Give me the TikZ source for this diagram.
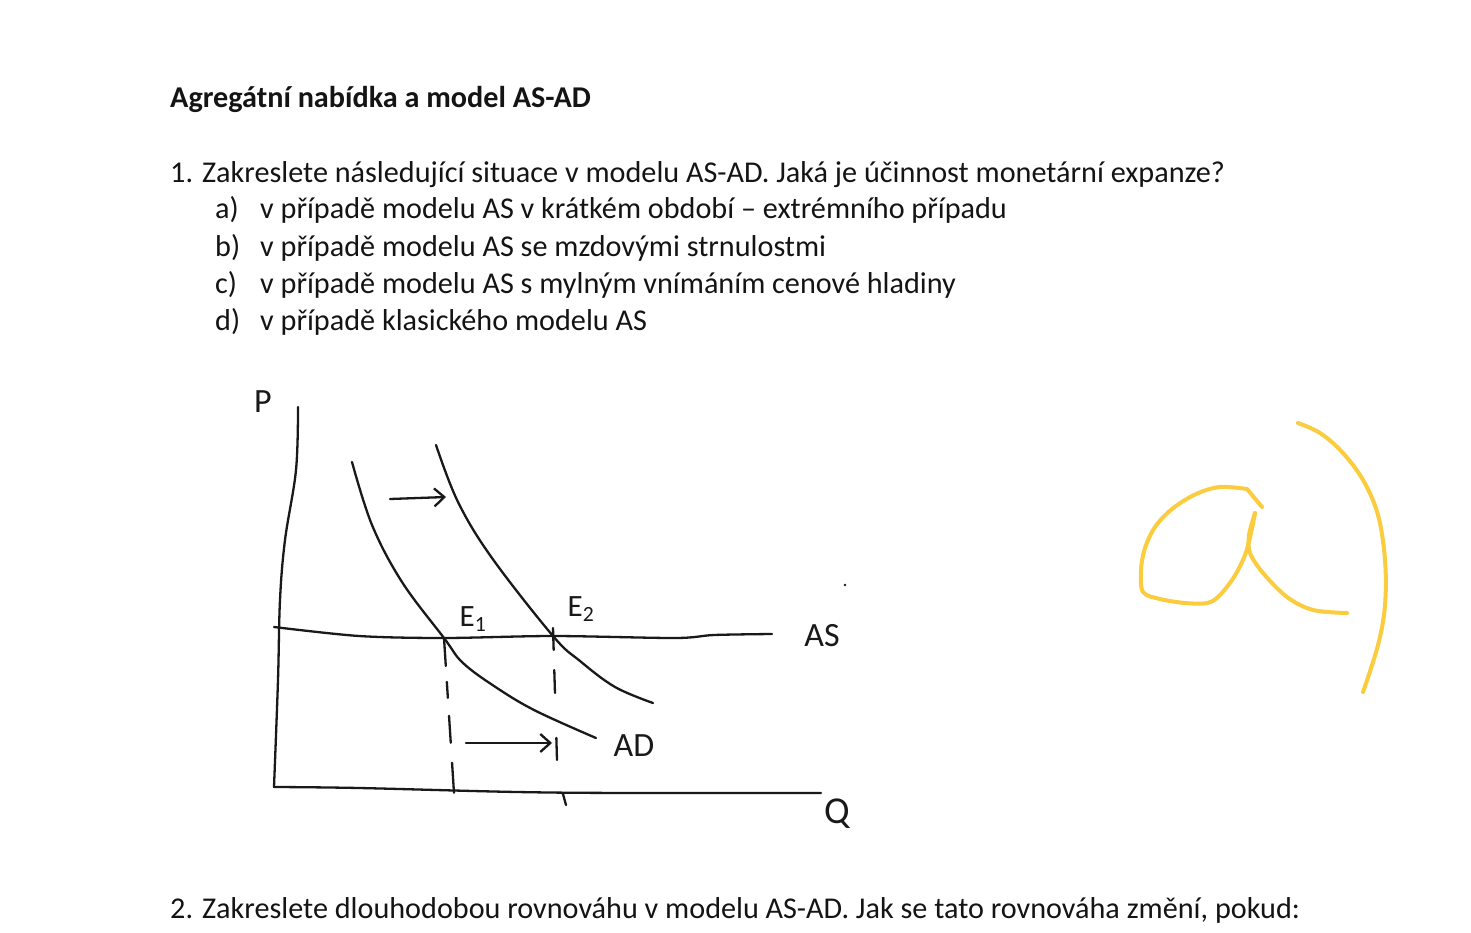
\documentclass[tikz,border=0pt]{standalone}
\usepackage{fontspec}
\setmainfont{Carlito}
\usetikzlibrary{arrows.meta, positioning}
\definecolor{inkBlack}    {RGB}{ 20, 20, 20}
\definecolor{penBlack}    {RGB}{ 25, 25, 25}
\definecolor{markerYellow}{RGB}{250,204, 62}

\begin{document}
\begin{tikzpicture}[
  x=1pt, y=-1pt,
  %% Printed text line
  txt/.style={anchor=base west, inner sep=0pt, text=inkBlack,
    font=\fontsize{30.2}{35}\selectfont},
  %% Handwritten label
  hand/.style={inner sep=0pt, text=penBlack,
    font=\fontsize{34}{38}\selectfont},
  %% Pen stroke
  pen/.style={draw=penBlack, line width=2.3pt, line cap=round, line join=round},
  %% Shift arrow
  sarr/.style={pen, -{Straight Barb[length=10pt,width=18pt,line width=2.3pt]}},
  %% Yellow marker stroke
  marker/.style={draw=markerYellow, line width=4pt, line cap=round, line join=round},
]
\useasboundingbox[fill=white] (0,0) rectangle (1471,933);

%% ── Y positions of text baselines ──────────────────────────────────────────
\def\yT{108}
\def\yQ{183}
\def\yA{219}
\def\yB{256}
\def\yC{293}
\def\yD{330}
\def\yR{918}

%% ── TEXT ───────────────────────────────────────────────────────────────────
\node[txt, font=\fontsize{30.2}{35}\selectfont\bfseries]
  (title) at (170,\yT) {Agregátní nabídka a model AS-AD};
\node[txt] (q1) at (170,\yQ)
  {1. Zakreslete následující situace v modelu AS-AD. Jaká je účinnost monetární expanze?};
\node[txt] (la) at (215,\yA) {a)};
\node[txt] (ta) at (260,\yA) {v případě modelu AS v krátkém období – extrémního případu};
\node[txt] (lb) at (215,\yB) {b)};
\node[txt] (tb) at (260,\yB) {v případě modelu AS se mzdovými strnulostmi};
\node[txt] (lc) at (215,\yC) {c)};
\node[txt] (tc) at (260,\yC) {v případě modelu AS s mylným vnímáním cenové hladiny};
\node[txt] (ld) at (215,\yD) {d)};
\node[txt] (td) at (260,\yD) {v případě klasického modelu AS};
\node[txt] (q2) at (170,\yR)
  {2. Zakreslete dlouhodobou rovnováhu v modelu AS-AD. Jak se tato rovnováha změní, pokud:};

%% ── KEY POINTS ─────────────────────────────────────────────────────────────
\coordinate (O)  at (274,787);
\coordinate (E1) at (444,638);
\coordinate (E2) at (553,636);

%% ── AXES ───────────────────────────────────────────────────────────────────
\draw[pen] plot[smooth, tension=0.6] coordinates
  {(298,407) (296,470) (285,540) (280,600) (278,680) (O)};
\draw[pen] plot[smooth, tension=0.6] coordinates
  {(O) (359,788) (517,792) (635,793) (821,793)};
\node[hand] (P) at (263,402) {P};
\node[hand, font=\fontsize{38}{42}\selectfont] (Q) at (837,814) {Q};

%% ── AS ─────────────────────────────────────────────────────────────────────
\draw[pen] plot[smooth, tension=0.5] coordinates
  {(274,627) (359,636) (E1) (E2) (675,638) (714,635) (772,634)};
\node[hand] (AS) at (822,636) {AS};

%% ── AD CURVES ──────────────────────────────────────────────────────────────
\draw[pen] plot[smooth, tension=0.6] coordinates
  {(352,462) (372,525) (402,582) (E1) (463,663) (497,688) (536,711) (596,738)};
\draw[pen] plot[smooth, tension=0.6] coordinates
  {(436,445) (458,502) (492,558) (E2) (580,661) (615,687) (653,703)};
\node[hand] (AD) at (634,746) {AD};

%% ── EQUILIBRIA ─────────────────────────────────────────────────────────────
\node[hand, font=\fontsize{31}{34}\selectfont] (E1lab) at (473,619) {E\textsubscript{1}};
\node[hand, font=\fontsize{31}{34}\selectfont] (E2lab) at (581,609) {E\textsubscript{2}};
\coordinate (E1foot) at (454,793);
\coordinate (E2top)  at (553,628);
\coordinate (E2foot) at (557,760);
\draw[pen, dash pattern=on 28pt off 16pt on 16pt off 18pt on 27pt off 20pt on 30pt]
  (E1) -- (E1foot);
\draw[pen, dash pattern=on 22pt off 20pt on 23pt off 45pt on 22pt]
  (E2top) -- (E2foot);
\coordinate (tickA) at (563,794);
\coordinate (tickB) at (566,805);
\draw[pen] (tickA) -- (tickB);

%% ── SHIFT ARROWS ───────────────────────────────────────────────────────────
\coordinate (upA) at (390,499);
\coordinate (upB) at (446,497);
\draw[sarr] (upA) -- (upB);
\coordinate (loA) at (466,743);
\coordinate (loB) at (552,743);
\draw[sarr] (loA) -- (loB);

%% stray dot
\fill[penBlack] (845,585) circle (1.3pt);

%% ── YELLOW "a)" ────────────────────────────────────────────────────────────
\draw[marker] (1262,507) -- plot[smooth, tension=0.55] coordinates
  {(1247,489) (1220,487) (1196,494) (1172,509) (1155,527) (1145,548)
   (1141,570) (1143,592) (1160,599) (1185,603) (1207,603) (1219,596)
   (1234,577) (1245,555) (1251,533) (1255,513)};
\draw[marker] plot[smooth, tension=0.55] coordinates
  {(1255,513) (1249,535) (1250,553) (1263,573) (1287,597) (1313,610) (1347,613)};
\draw[marker] plot[smooth, tension=0.6] coordinates
  {(1298,423) (1320,433) (1342,452) (1363,480) (1378,515) (1385,560)
   (1385,605) (1378,645) (1363,692)};

\end{tikzpicture}
\end{document}
